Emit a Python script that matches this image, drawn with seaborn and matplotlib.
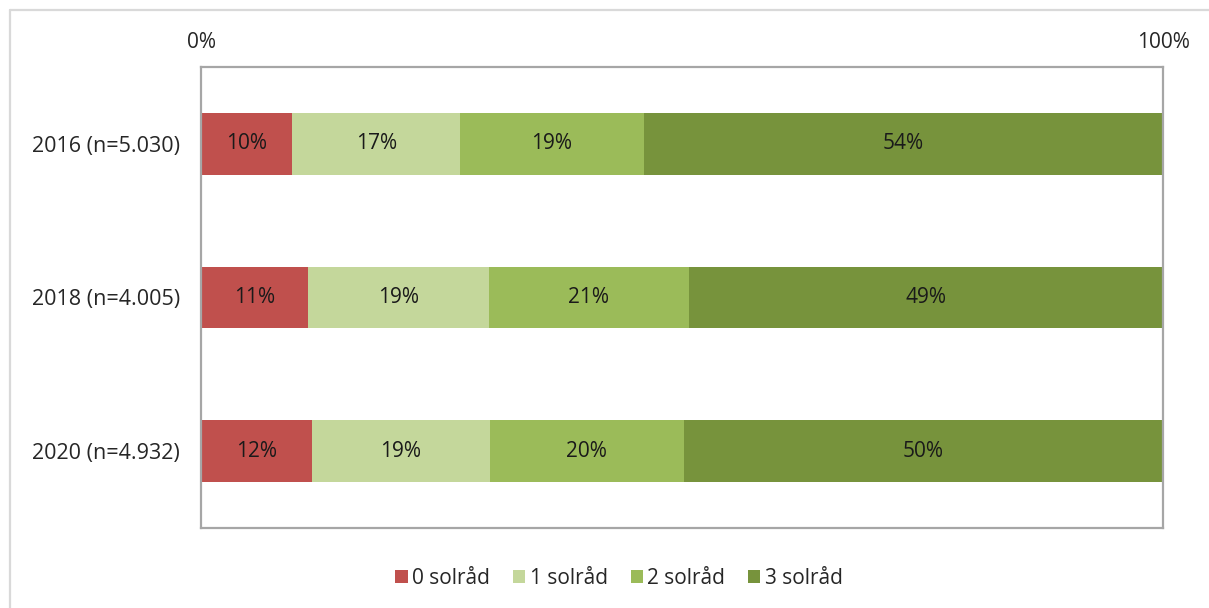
import numpy as np
import pandas as pd
import matplotlib
matplotlib.use("Agg")
import matplotlib.pyplot as plt
import seaborn as sns
from matplotlib.lines import Line2D
from matplotlib.patches import Patch

# data (shares in %)
years = ["2016 (n=5.030)", "2018 (n=4.005)", "2020 (n=4.932)"]
series = ["0 solråd", "1 solråd", "2 solråd", "3 solråd"]
share_0 = [9.5, 11.1, 11.5]
share_1 = [17.4, 18.8, 18.5]
share_2 = [19.1, 20.8, 20.2]
share_3 = [54.0, 49.3, 49.8]
labels_0 = ["10%", "11%", "12%"]
labels_1 = ["17%", "19%", "19%"]
labels_2 = ["19%", "21%", "20%"]
labels_3 = ["54%", "49%", "50%"]

colors = ["#C0504D", "#C4D79B", "#9BBB59", "#77933C"]

sns.set_style("white")
plt.rcParams['font.family'] = ['Open Sans', 'DejaVu Sans']

shares = np.array([share_0, share_1, share_2, share_3])
shares = shares / shares.sum(axis=0) * 100
cum = np.cumsum(shares, axis=0)
df = pd.DataFrame({"year": years})
for i, s in enumerate(series):
    df[s] = cum[i]

fig = plt.figure(figsize=(12.09, 6.08), dpi=100)
ax = fig.add_axes([0.1663, 0.1316, 0.7957, 0.7582])

# stacked look: draw cumulative totals from the largest down
for i in range(len(series) - 1, -1, -1):
    sns.barplot(data=df, x=series[i], y="year", orient="h", color=colors[i],
                width=0.4, saturation=1, linewidth=0, ax=ax)

all_labels = [labels_0, labels_1, labels_2, labels_3]
for i in range(len(series)):
    left = cum[i] - shares[i]
    for j in range(len(years)):
        ax.text(left[j] + shares[i][j] / 2, j, all_labels[i][j], ha="center",
                va="center", fontsize=15, color="#1a1a1a")

ax.set_xlim(0, 100)
ax.set_ylim(2.5, -0.5)
ax.xaxis.tick_top()
ax.set_xticks([0, 100])
ax.set_xticklabels(["0%", "100%"], fontsize=15)
ax.tick_params(axis="x", length=0, pad=10)
ax.tick_params(axis="y", length=0, pad=15, labelsize=15.5)
ax.set_xlabel("")
ax.set_ylabel("")
for sp in ax.spines.values():
    sp.set_visible(True)
    sp.set_color("#a6a6a6")
    sp.set_linewidth(1.6)

# outer chart frame
fig.add_artist(Line2D([10 / 1209, 1], [1 - 10 / 608, 1 - 10 / 608], color="#d9d9d9", lw=1.6))
fig.add_artist(Line2D([10 / 1209, 10 / 1209], [0, 1 - 10 / 608], color="#d9d9d9", lw=1.6))

handles = [Patch(facecolor=c, edgecolor="none") for c in colors]
fig.legend(handles, series, loc="center", bbox_to_anchor=(0.512, 0.049), ncol=4,
           frameon=False, fontsize=15, handlelength=0.6, handleheight=0.6,
           handletextpad=0.2, columnspacing=1.1)

fig.savefig("out.png", dpi=100, facecolor="white")
